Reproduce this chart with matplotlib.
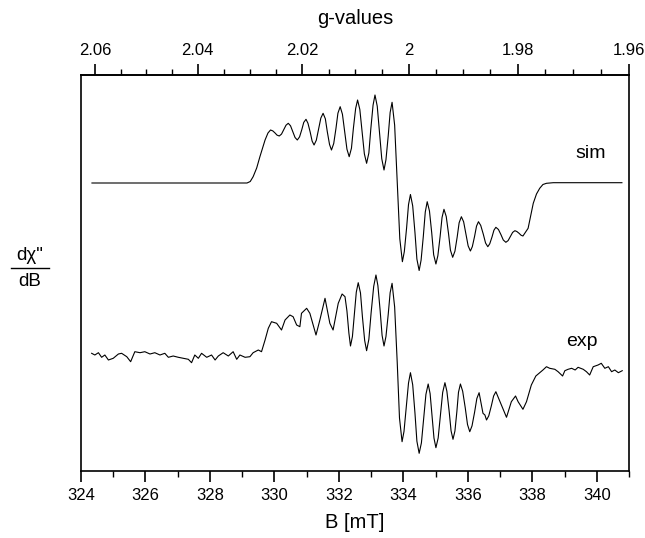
import matplotlib
matplotlib.use('Agg')
import matplotlib.pyplot as plt
from matplotlib.ticker import MultipleLocator, FuncFormatter
from matplotlib.lines import Line2D

plt.rcParams['font.family'] = ['Liberation Sans', 'DejaVu Sans']

# field values (mT) and signal heights (arbitrary units)
sim_b = [324.34, 329.15, 329.25, 329.34, 329.45, 329.55, 329.71, 329.80, 329.88, 329.95,
         330.02, 330.08, 330.15, 330.22, 330.29, 330.36, 330.43, 330.50, 330.57, 330.64,
         330.71, 330.78, 330.85, 330.91, 330.98, 331.04, 331.11, 331.17, 331.23, 331.30,
         331.37, 331.44, 331.51, 331.58, 331.64, 331.71, 331.77, 331.84, 331.91, 331.97,
         332.04, 332.11, 332.18, 332.25, 332.32, 332.39, 332.45, 332.52, 332.58, 332.65,
         332.72, 332.79, 332.86, 332.93, 332.99, 333.06, 333.12, 333.19, 333.26, 333.33,
         333.40, 333.46, 333.53, 333.59, 333.65, 333.73, 333.81, 333.89, 333.97, 334.03,
         334.10, 334.16, 334.22, 334.29, 334.36, 334.42, 334.49, 334.55, 334.62, 334.68,
         334.74, 334.81, 334.88, 334.94, 335.01, 335.07, 335.14, 335.20, 335.26, 335.33,
         335.40, 335.46, 335.53, 335.60, 335.67, 335.73, 335.80, 335.87, 335.94, 336.01,
         336.08, 336.14, 336.21, 336.27, 336.33, 336.40, 336.48, 336.55, 336.62, 336.68,
         336.75, 336.81, 336.87, 336.95, 337.03, 337.10, 337.18, 337.25, 337.32, 337.39,
         337.46, 337.52, 337.59, 337.65, 337.71, 337.87, 337.95, 338.03, 338.13, 338.23,
         338.33, 338.44, 338.65, 340.78]
sim_y = [288, 288, 289.5, 294.3, 303, 314.3, 331, 338, 341, 340.1,
         338, 335.9, 335, 336.9, 341.4, 345.8, 347.7, 345.2, 339.4, 333.5,
         331, 334.1, 341.4, 348.6, 351.7, 347.8, 338.9, 329.9, 326, 330.8,
         341.9, 352.9, 357.7, 352.2, 339.4, 326.5, 321, 327.5, 342.7, 357.8,
         364.3, 356.8, 339.3, 321.8, 314.3, 322.8, 342.7, 362.5, 371, 361.5,
         339.4, 317.2, 307.7, 318, 341.9, 365.8, 376, 364.8, 338.5, 312.3,
         301, 311.2, 334.9, 358.5, 368.7, 345.8, 289, 232.2, 209.3, 219.4,
         242.9, 266.4, 276.5, 265.1, 238.5, 211.9, 200.5, 210.8, 234.9, 259,
         269.3, 260, 238.2, 216.3, 207, 215.2, 234.4, 253.5, 261.7, 254.5,
         237.7, 220.9, 213.7, 219.8, 234, 248.2, 254.3, 249.2, 237.2, 225.1,
         220, 224.4, 234.7, 244.9, 249.3, 245.6, 236.8, 228, 224.3, 227.2,
         234, 240.8, 243.7, 241.5, 236.2, 231, 228.7, 230.4, 234.5, 238.6,
         240.3, 239.5, 237.7, 235.8, 235, 242.7, 255, 267.7, 277, 282.7,
         286.5, 287.7, 288.3, 288.3]

exp_b = [324.33, 324.43, 324.54, 324.64, 324.74, 324.85, 325.00, 325.16, 325.26, 325.42,
         325.54, 325.67, 325.83, 325.98, 326.14, 326.29, 326.45, 326.60, 326.71, 326.86,
         327.02, 327.17, 327.33, 327.43, 327.53, 327.64, 327.74, 327.90, 328.05, 328.16,
         328.26, 328.41, 328.57, 328.72, 328.83, 328.93, 329.09, 329.24, 329.34, 329.50,
         329.60, 329.71, 329.81, 329.91, 330.07, 330.22, 330.33, 330.48, 330.58, 330.69,
         330.79, 330.84, 331.00, 331.10, 331.29, 331.41, 331.57, 331.72, 331.82, 331.98,
         332.10, 332.19, 332.25, 332.31, 332.36, 332.42, 332.48, 332.54, 332.60, 332.67,
         332.73, 332.80, 332.86, 332.93, 333.00, 333.08, 333.15, 333.21, 333.28, 333.34,
         333.40, 333.46, 333.53, 333.59, 333.65, 333.73, 333.81, 333.88, 333.96, 334.02,
         334.09, 334.16, 334.22, 334.29, 334.36, 334.42, 334.49, 334.56, 334.63, 334.70,
         334.77, 334.83, 334.89, 334.95, 335.01, 335.08, 335.15, 335.22, 335.29, 335.35,
         335.42, 335.48, 335.54, 335.60, 335.66, 335.71, 335.77, 335.84, 335.92, 335.99,
         336.06, 336.13, 336.21, 336.28, 336.35, 336.47, 336.53, 336.58, 336.65, 336.73,
         336.80, 336.87, 337.04, 337.20, 337.35, 337.48, 337.56, 337.71, 337.82, 337.97,
         338.11, 338.23, 338.33, 338.44, 338.54, 338.70, 338.80, 338.94, 339.01, 339.11,
         339.22, 339.33, 339.42, 339.58, 339.68, 339.78, 339.89, 340.04, 340.14, 340.25,
         340.36, 340.46, 340.56, 340.67, 340.79]
exp_y = [117.7, 116, 118.3, 113.7, 116, 111, 112.7, 117, 117.7, 114.3,
         109.3, 119.3, 118.3, 119.3, 117, 118.3, 116, 117.7, 113.7, 115,
         113.7, 112.7, 111.7, 108.3, 116, 112.7, 117.7, 113.7, 116, 111,
         115, 118.3, 115, 119.3, 111.7, 116, 113.7, 114.3, 118.3, 121,
         119.3, 131, 142.7, 149.3, 147.7, 141, 151, 156, 154.3, 146,
         144.3, 157.7, 162.7, 157.7, 136, 151, 172.7, 147.7, 141, 167.7,
         177, 174.3, 160, 138, 125, 134.5, 156.7, 178.8, 188.3, 178.1,
         154.3, 130.5, 120.3, 131.7, 158.2, 184.6, 196, 185.4, 160.5, 135.7,
         125, 134.4, 156.4, 178.3, 187.7, 164, 108.5, 53, 29.3, 39.6,
         63.8, 88, 98.3, 86.2, 58, 29.8, 17.7, 28.1, 52.4, 76.6,
         87, 77.4, 55.2, 32.9, 23.3, 33, 55.8, 78.6, 88.3, 79.8,
         60, 40.2, 31.7, 40, 59.4, 78.7, 87, 79.8, 63.2, 46.5,
         39.3, 45.1, 58.8, 72.5, 78.3, 57.7, 56, 51, 55.2, 65.2,
         75, 79.3, 66, 53.7, 69.3, 75, 69.3, 61.7, 69.3, 86,
         95, 98.3, 101, 104.3, 102.7, 101.7, 99.3, 95, 100.3, 101.7,
         102.7, 101, 103.7, 101.7, 99.3, 96, 104.3, 106, 107.7, 102.7,
         104.3, 99.3, 101, 98.3, 100.3]

g_major = [2.06, 2.04, 2.02, 2.00, 1.98, 1.96]
g_const = 668.35  # B [mT] * g

fig = plt.figure(figsize=(6.45, 5.38), dpi=100)
ax = fig.add_axes([81 / 645, 1 - 471 / 538, 548 / 645, 396 / 538])

ax.plot(sim_b, sim_y, color='black', lw=0.8)
ax.plot(exp_b, exp_y, color='black', lw=0.8)

ax.set_xlim(324, 341)
ax.set_ylim(0, 396)
ax.set_yticks([])
ax.xaxis.set_major_locator(MultipleLocator(2))
ax.xaxis.set_minor_locator(MultipleLocator(1))
ax.tick_params(axis='x', which='major', direction='out', length=8, width=1.2,
               labelsize=12, pad=4)
ax.tick_params(axis='x', which='minor', direction='out', length=4, width=1.0)
for sp in ax.spines.values():
    sp.set_linewidth(1.2)

# g-value axis on top
top = ax.secondary_xaxis('top', functions=(lambda b: g_const / b, lambda g: g_const / g))
top.set_xticks(g_major)
top.xaxis.set_minor_locator(MultipleLocator(0.005))
top.xaxis.set_major_formatter(FuncFormatter(lambda v, p: f'{v:g}'))
top.tick_params(axis='x', which='major', direction='out', length=8, width=1.2,
                labelsize=12, pad=4)
top.tick_params(axis='x', which='minor', direction='out', length=4, width=1.0)
top.spines['top'].set_linewidth(1.2)

ax.text(339.8, 318, 'sim', fontsize=14, ha='center', va='center')
ax.text(339.55, 129, 'exp', fontsize=14, ha='center', va='center')

fig.text(355 / 645, 1 - 19 / 538, 'g-values', fontsize=14.5, ha='center', va='center')
fig.text(355 / 645, 1 - 522 / 538, 'B [mT]', fontsize=14.5, ha='center', va='center')

# y label as a fraction
fig.text(30 / 645, 1 - 255 / 538, 'd\u03c7"', fontsize=13.5, ha='center', va='center')
fig.text(30 / 645, 1 - 281 / 538, 'dB', fontsize=13.5, ha='center', va='center')
fig.add_artist(Line2D([11 / 645, 49 / 645], [1 - 268 / 538, 1 - 268 / 538],
                      color='black', lw=1.0, transform=fig.transFigure))

fig.savefig('out.png', dpi=100)
